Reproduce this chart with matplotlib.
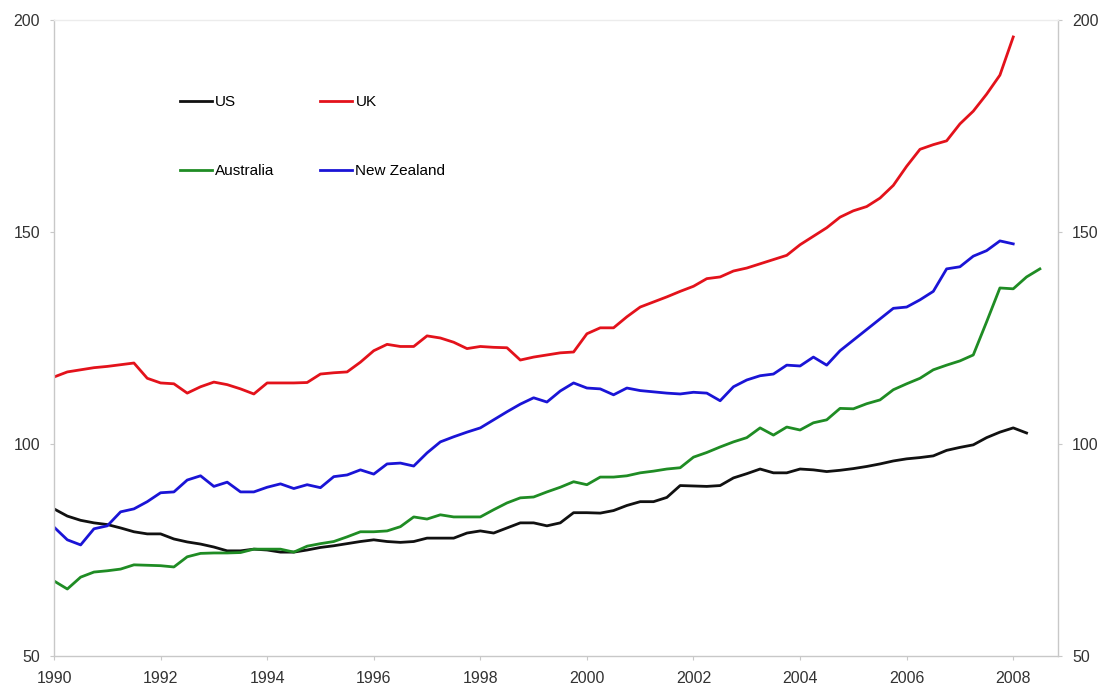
import numpy as np
import matplotlib
matplotlib.use("Agg")
import matplotlib.pyplot as plt

# quarterly index levels
us = [84.7, 83.0, 82.0, 81.4, 81.0, 80.2, 79.3, 78.8, 78.8, 77.6, 76.9, 76.4,
      75.7, 74.8, 74.8, 75.2, 75.0, 74.5, 74.5, 75.0, 75.6, 76.0, 76.5, 77.0,
      77.4, 77.0, 76.8, 77.0, 77.8, 77.8, 77.8, 79.0, 79.5, 79.0, 80.2, 81.4,
      81.4, 80.7, 81.4, 83.8, 83.8, 83.7, 84.3, 85.5, 86.4, 86.4, 87.4, 90.2,
      90.1, 90.0, 90.2, 92.0, 93.0, 94.1, 93.2, 93.2, 94.1, 93.9, 93.5, 93.8,
      94.2, 94.7, 95.3, 96.0, 96.5, 96.8, 97.2, 98.5, 99.2, 99.8, 101.5, 102.8,
      103.8, 102.6]
uk = [115.8, 117.0, 117.5, 118.0, 118.3, 118.7, 119.1, 115.5, 114.4, 114.2, 112.0, 113.5,
      114.6, 114.0, 113.0, 111.8, 114.4, 114.4, 114.4, 114.5, 116.5, 116.8, 117.0, 119.3,
      122.0, 123.5, 123.0, 123.0, 125.5, 125.0, 124.0, 122.5, 123.0, 122.8, 122.7, 119.8,
      120.5, 121.0, 121.5, 121.7, 126.0, 127.4, 127.4, 130.0, 132.3, 133.5, 134.7, 136.0,
      137.2, 139.0, 139.4, 140.8, 141.5, 142.5, 143.5, 144.5, 147.0, 149.0, 151.0, 153.5,
      155.0, 156.0, 158.0, 161.0, 165.5, 169.5, 170.6, 171.5, 175.5, 178.5, 182.5, 187.0,
      196.0]
australia = [67.7, 65.8, 68.6, 69.8, 70.1, 70.5, 71.5, 71.4, 71.3, 71.0, 73.4, 74.2,
             74.3, 74.3, 74.4, 75.2, 75.2, 75.2, 74.5, 75.9, 76.5, 77.0, 78.1, 79.3,
             79.3, 79.5, 80.5, 82.8, 82.3, 83.3, 82.8, 82.8, 82.8, 84.5, 86.1, 87.3,
             87.5, 88.7, 89.8, 91.1, 90.4, 92.2, 92.2, 92.5, 93.2, 93.6, 94.1, 94.4,
             96.9, 98.0, 99.3, 100.5, 101.5, 103.8, 102.1, 104.0, 103.3, 105.0, 105.7, 108.4,
             108.3, 109.5, 110.4, 112.8, 114.2, 115.5, 117.5, 118.6, 119.6, 121.0, 128.8, 136.8,
             136.6, 139.4, 141.3]
new_zealand = [80.4, 77.4, 76.2, 80.0, 80.7, 84.0, 84.7, 86.4, 88.5, 88.7, 91.5, 92.5,
               90.0, 91.0, 88.7, 88.7, 89.8, 90.6, 89.5, 90.4, 89.7, 92.3, 92.7, 93.9,
               92.9, 95.3, 95.5, 94.8, 97.9, 100.5, 101.7, 102.8, 103.8, 105.7, 107.6, 109.4,
               110.9, 109.9, 112.5, 114.4, 113.2, 113.0, 111.6, 113.2, 112.6, 112.3, 112.0, 111.8,
               112.2, 112.0, 110.2, 113.5, 115.1, 116.1, 116.5, 118.6, 118.4, 120.5, 118.6, 122.0,
               124.5, 127.0, 129.5, 132.0, 132.3, 134.0, 136.0, 141.3, 141.8, 144.3, 145.6, 147.9,
               147.2]

start_year = 1990
year_ticks = [1990, 1992, 1994, 1996, 1998, 2000, 2002, 2004, 2006, 2008]
value_ticks = [50, 100, 150, 200]

series = [
    ("US", us, "#111111"),
    ("Australia", australia, "#1f8c24"),
    ("UK", uk, "#e3121b"),
    ("New Zealand", new_zealand, "#1a14d6"),
]

plt.rcParams['font.family'] = ['Liberation Sans', 'DejaVu Sans']

fig = plt.figure(figsize=(11.01, 6.87), dpi=100)
ax = fig.add_axes([54 / 1101, 1 - 656 / 687, (1058 - 54) / 1101, (656 - 20) / 687])

for name, vals, col in series:
    x = start_year + np.arange(len(vals)) / 4.0
    ax.plot(x, vals, color=col, lw=2.0, label=name)

ax.set_xlim(1990, 2008.84)
ax.set_ylim(50, 200)
ax.set_xticks(year_ticks)
ax.set_yticks(value_ticks)

for side in ["left", "right", "bottom", "top"]:
    ax.spines[side].set_color("#c8c8c8")
    ax.spines[side].set_linewidth(1.0)
ax.spines["top"].set_color("#ececec")

ax.tick_params(axis="y", left=True, right=True, labelleft=True, labelright=True,
               length=3, color="#c8c8c8", labelsize=11.5, labelcolor="#333333", pad=7)
ax.tick_params(axis="x", length=3, color="#c8c8c8", labelsize=11.5,
               labelcolor="#333333", pad=8)

ax.legend(ncol=2, loc="upper left", bbox_to_anchor=(0.1255, 0.882), frameon=False,
          fontsize=11, handlelength=2.1, handletextpad=0.2, columnspacing=3.0,
          labelspacing=3.6, borderpad=0, borderaxespad=0)

fig.savefig("out.png", dpi=100)
